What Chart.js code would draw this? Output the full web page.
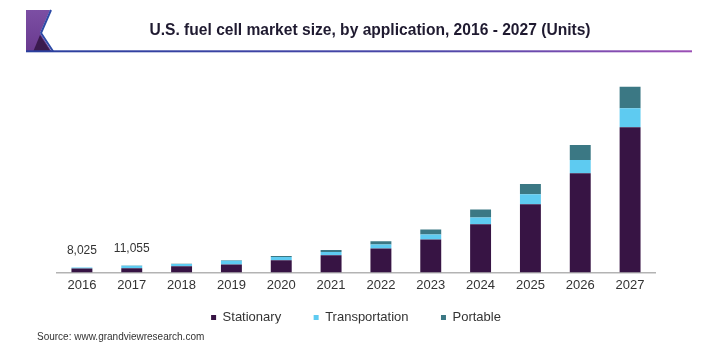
<!DOCTYPE html>
<html>
<head>
<meta charset="utf-8">
<script src="https://cdn.jsdelivr.net/npm/chart.js@4.4.0/dist/chart.umd.min.js"></script>
<style>
  html, body { margin: 0; padding: 0; background: #ffffff; }
  #wrap { width: 703px; height: 356px; position: relative; }
</style>
</head>
<body>
<div id="wrap"><canvas id="c" width="703" height="356"></canvas></div>
<script>
// ---- data (units) ----
const years = ['2016', '2017', '2018', '2019', '2020', '2021', '2022', '2023', '2024', '2025', '2026', '2027'];
const stationary     = [6400, 6800, 10000, 13000, 19700, 27700, 38400, 52800, 77300, 109100, 158700, 232300];
const transportation = [1500, 3900,  3700,  5800,  5200,  5300,  6400,  8000, 10700,  16000,  21300,  30400];
const portable       = [ 125,  355,   300,   800,  1600,  3200,  5300,  8000, 12800,  16500,  24000,  34700];
const labelledYears  = ['2016', '2017'];
const labelledTotals = [8025, 11055];
const yMax = 308000;

const FONT = '"Liberation Sans", Arial, Helvetica, sans-serif';

const decor = {
  id: 'decor',
  afterLayout(chart) {
    // the x axis reserves little layout space so the legend sits close,
    // but its label clip region must still cover the year labels
    const xs = chart.scales.x;
    if (xs) { xs.bottom = xs.top + 24; }
  },
  afterDraw(chart) {
    const ctx = chart.ctx;
    ctx.save();
    // header logo
    const g = ctx.createLinearGradient(26, 10, 26, 52);
    g.addColorStop(0, '#7c4fa4');
    g.addColorStop(1, '#693a8e');
    ctx.fillStyle = g;
    ctx.beginPath();
    ctx.moveTo(26, 10); ctx.lineTo(50, 10); ctx.lineTo(40, 33); ctx.lineTo(52, 52); ctx.lineTo(26, 52);
    ctx.closePath(); ctx.fill();
    ctx.fillStyle = '#3a1a4e';
    ctx.beginPath();
    ctx.moveTo(40, 35); ctx.lineTo(33, 52); ctx.lineTo(51, 52);
    ctx.closePath(); ctx.fill();
    ctx.strokeStyle = '#2d4aa6'; ctx.lineWidth = 2;
    ctx.beginPath();
    ctx.moveTo(51, 10); ctx.lineTo(41, 33); ctx.lineTo(53, 51.3);
    ctx.stroke();
    // header rule
    const rg = ctx.createLinearGradient(26, 0, 692, 0);
    rg.addColorStop(0, '#2a3f9e');
    rg.addColorStop(0.6, '#4b47a8');
    rg.addColorStop(1, '#9b4fb5');
    ctx.fillStyle = rg;
    ctx.fillRect(26, 50.3, 666, 2);
    ctx.restore();
  },
  afterDatasetsDraw(chart) {
    const ctx = chart.ctx;
    const xs = chart.scales.x, ys = chart.scales.y;
    ctx.save();
    ctx.font = '12px ' + FONT;
    ctx.fillStyle = '#333333';
    ctx.textAlign = 'center';
    ctx.textBaseline = 'middle';
    labelledYears.forEach((yr, k) => {
      const i = years.indexOf(yr);
      const top = stationary[i] + transportation[i] + portable[i];
      ctx.fillText(labelledTotals[k].toLocaleString('en-US'), xs.getPixelForValue(i), ys.getPixelForValue(top) - 17);
    });
    ctx.restore();
  }
};

const ds = (label, data, color) => ({
  label, data, backgroundColor: color, borderWidth: 0,
  barPercentage: 1, categoryPercentage: 0.42, stack: 's'
});

new Chart(document.getElementById('c'), {
  type: 'bar',
  data: {
    labels: years,
    datasets: [
      ds('Stationary', stationary, '#371444'),
      ds('Transportation', transportation, '#5ecbf1'),
      ds('Portable', portable, '#3b7884')
    ]
  },
  options: {
    responsive: false,
    animation: false,
    layout: { padding: { left: 37, right: 0, top: 0, bottom: 0 } },
    scales: {
      x: {
        stacked: true,
        offset: true,
        grid: { display: false, drawTicks: false },
        border: { display: true, color: '#b3b3b3', width: 1.5 },
        ticks: { color: '#333333', font: { family: FONT, size: 13 }, padding: 5, maxRotation: 0 },
        afterFit: s => { s.height = 6; }
      },
      y: {
        stacked: true, min: 0, max: yMax,
        ticks: { display: false },
        grid: { display: false, drawTicks: false },
        border: { display: false },
        afterFit: s => { s.width = 20; }
      },
      y2: {
        type: 'linear', axis: 'y', position: 'right',
        ticks: { display: false },
        grid: { display: false, drawTicks: false },
        border: { display: false },
        afterFit: s => { s.width = 48; }
      }
    },
    plugins: {
      title: {
        display: true,
        text: 'U.S. fuel cell market size, by application, 2016 - 2027 (Units)',
        color: '#1f1a30',
        font: { family: FONT, size: 15.6, weight: 'bold' },
        padding: { top: 21.65, bottom: 39.63 }
      },
      legend: {
        position: 'bottom',
        fullSize: false,
        maxHeight: 45,
        labels: {
          boxWidth: 5, boxHeight: 5, padding: 32.5,
          color: '#333333',
          font: { family: FONT, size: 13 }
        }
      },
      subtitle: {
        display: true,
        position: 'bottom',
        align: 'start',
        text: 'Source: www.grandviewresearch.com',
        color: '#333333',
        font: { family: FONT, size: 10 },
        padding: { top: 8.2, bottom: 12.3 }
      },
      tooltip: { enabled: false }
    }
  },
  plugins: [decor]
});
</script>
</body>
</html>
